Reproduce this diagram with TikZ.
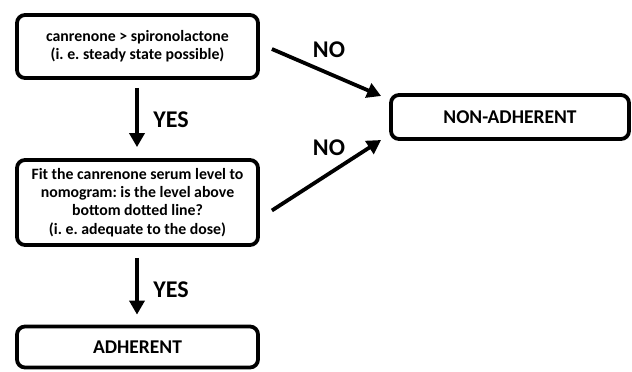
\documentclass[tikz,border=0pt]{standalone}
\usepackage{fontspec}
\setmainfont{Carlito}
\frenchspacing
\usetikzlibrary{arrows.meta,calc}
\begin{document}
\begin{tikzpicture}[x=1pt,y=-1pt,
  box/.style={draw=black,line width=3.8pt,rounded corners=8pt,align=center,
    font=\bfseries\fontsize{15.8}{18.3}\selectfont,inner sep=0pt},
  lab/.style={font=\bfseries\fontsize{19.5}{21}\selectfont},
  yn/.style={font=\bfseries\fontsize{24}{26}\selectfont,inner sep=0pt},
  arr/.style={line width=3.8pt,-{Triangle[length=14pt,width=15pt]}}]
\useasboundingbox (0,0) rectangle (632,372);
\node[box,minimum width=241pt,minimum height=63pt] (b1) at (137.5,46.5)
  {canrenone > spironolactone\\(i. e. steady state possible)};
\node[box,minimum width=241pt,minimum height=85pt] (b2) at (137.5,202.5)
  {Fit the canrenone serum level to\\nomogram: is the level above\\bottom dotted line?\\(i. e. adequate to the dose)};
\node[box,lab,minimum width=241pt,minimum height=41pt] (b3) at (137.5,347)
  {ADHERENT};
\node[box,lab,minimum width=238pt,minimum height=44pt] (b4) at (510,117)
  {NON-ADHERENT};
\draw[arr] ($(b1.south)+(-0.5,8)$) -- ($(b2.north)+(-0.5,-11)$);
\draw[arr] ($(b2.south)+(-0.5,11)$) -- ($(b3.north)+(-0.5,-10)$);
\draw[arr] ($(b1.east)+(12,2.5)$) -- ($(b4.west)+(-8,-21)$);
\draw[arr] ($(b2.east)+(12,8)$) -- ($(b4.west)+(-8,23)$);
\node[yn] (y1) at (171,120) {YES};
\node[yn] (y2) at (171,290) {YES};
\node[yn] (n1) at (329,50) {NO};
\node[yn] (n2) at (329,148) {NO};
\end{tikzpicture}
\end{document}
